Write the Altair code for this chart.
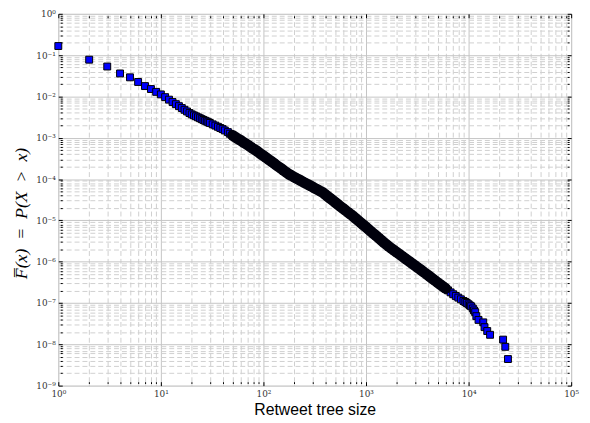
import altair as alt
import pandas as pd

# ---- data (tree size, CCDF) ----
sizes = [1, 2, 3, 4, 5, 6, 7, 8, 9, 10,
         11, 12, 13, 14, 15, 16, 17, 18, 19, 20,
         21, 22, 23, 24, 25, 26, 27, 28, 29, 30,
         32, 34, 36, 38, 40, 42, 45, 47, 50, 53, 56, 60, 63, 67, 71, 75, 79, 84, 89, 94,
         100, 106, 112, 119, 126, 133, 141, 150, 158, 168, 178, 188, 200, 211, 224, 237,
         251, 266, 282, 299, 316, 335, 355, 376, 398, 422, 447, 473, 501, 531, 562, 596,
         631, 668, 708, 750, 794, 841, 891, 944, 1000, 1059, 1122, 1189, 1259, 1334, 1413,
         1496, 1585, 1679, 1778, 1884, 1995, 2113, 2239, 2371, 2512, 2661, 2818, 2985,
         3162, 3350, 3548, 3758, 3981, 4217, 4467, 4732, 5012, 5309, 5623, 5957, 6310,
         6683, 7079, 7499, 7943, 8414, 8913, 9290, 9600, 10000, 10300, 10600, 11000,
         11300, 11600, 11900, 12500, 13900, 14300, 15200, 16200, 21700, 22800, 24200]
ccdf = [0.166, 0.0776, 0.053, 0.036, 0.029, 0.0224, 0.0178, 0.0151, 0.0129, 0.0112,
        0.00962, 0.00836, 0.00733, 0.0065, 0.00582, 0.00524, 0.00475, 0.00433, 0.00396, 0.00368,
        0.00348, 0.0033, 0.00312, 0.00297, 0.00282, 0.0027, 0.00258, 0.00248, 0.00237, 0.00228,
        0.00211, 0.00197, 0.00184, 0.00172, 0.00162, 0.0015, 0.00137, 0.00125, 0.00114,
        0.00104, 0.000948, 0.000865, 0.000789, 0.000721, 0.000658, 0.0006, 0.000547,
        0.000499, 0.000451, 0.000406,
        0.000366, 0.00033, 0.000298, 0.000269, 0.000242, 0.000218, 0.000197, 0.000177,
        0.00016, 0.000144, 0.00013, 0.000121, 0.000111, 0.000103, 9.55e-5, 8.85e-5,
        8.19e-5, 7.58e-5, 7.02e-5, 6.5e-5, 6.02e-5, 5.57e-5, 5.15e-5, 4.77e-5, 4.27e-5,
        3.81e-5, 3.41e-5, 3.05e-5, 2.73e-5, 2.44e-5, 2.18e-5, 1.95e-5,
        1.75e-5, 1.56e-5, 1.4e-5, 1.25e-5, 1.11e-5, 9.86e-6, 8.73e-6, 7.73e-6, 6.84e-6,
        6.05e-6, 5.36e-6, 4.74e-6, 4.2e-6, 3.72e-6, 3.29e-6,
        2.91e-6, 2.58e-6, 2.3e-6, 2.07e-6, 1.87e-6, 1.68e-6, 1.52e-6, 1.37e-6, 1.23e-6,
        1.11e-6, 1.0e-6, 9.02e-7, 8.13e-7,
        7.31e-7, 6.59e-7, 5.92e-7, 5.32e-7, 4.78e-7, 4.29e-7, 3.85e-7, 3.46e-7, 3.1e-7,
        2.79e-7, 2.5e-7, 2.25e-7, 2.02e-7,
        1.81e-7, 1.63e-7, 1.48e-7, 1.35e-7, 1.23e-7, 1.12e-7, 1.06e-7, 1.0e-7, 9.3e-8,
        8.7e-8, 8.3e-8, 7.4e-8,
        6.6e-8, 6.0e-8, 4.8e-8, 3.9e-8, 3.4e-8, 2.6e-8, 2.1e-8, 1.7e-8, 1.3e-8, 8.7e-9, 4.4e-9]

x_major_exps = [0, 1, 2, 3, 4, 5]
y_major_exps = [-9, -8, -7, -6, -5, -4, -3, -2, -1, 0]
minor_mults = [1, 2, 3, 4, 5, 6, 7, 8, 9]

x_ticks = [m * 10.0 ** e for e in x_major_exps for m in minor_mults if m * 10.0 ** e <= 1e5]
y_ticks = [m * 10.0 ** e for e in y_major_exps for m in minor_mults if m * 10.0 ** e <= 1.0]

df = pd.DataFrame({"size": sizes, "ccdf": ccdf})

SUP = {"0": "\u2070", "1": "\u00b9", "2": "\u00b2", "3": "\u00b3", "4": "\u2074",
       "5": "\u2075", "6": "\u2076", "7": "\u2077", "8": "\u2078", "9": "\u2079",
       "-": "\u207b"}


def sup(n):
    return "".join(SUP[c] for c in str(n))


EXP = "round(log(datum.value)/LN10)"
IS_MAJOR = f"abs(log(datum.value)/LN10 - {EXP}) < 0.001"


def label_expr(exps):
    nested = "''"
    for e in exps:
        nested = f"({EXP} == {e} ? '10{sup(e)}' : {nested})"
    return f"{IS_MAJOR} ? {nested} : ''"


grid_dash = {"condition": {"test": IS_MAJOR, "value": []}, "value": [5, 3]}
grid_color = {"condition": {"test": IS_MAJOR, "value": "#c4c4c4"}, "value": "#cfcfcf"}
tick_size = {"condition": {"test": IS_MAJOR, "value": 4}, "value": 2}

common = dict(
    grid=True, gridDash=grid_dash, gridColor=grid_color, gridWidth=1,
    ticks=True, tickSize=tick_size, tickColor="black", tickWidth=1, offset=-4,
    domain=False,
    labelFont="DejaVu Serif", labelFontSize=9, labelColor="#333333",
    labelOverlap=False, labelFlush=False, labelBound=False,
)

tick_only = dict(
    grid=False, ticks=True, tickSize=tick_size, tickColor="black", tickWidth=1,
    offset=-4, domain=False, labels=False, title=None,
)

x_scale = alt.Scale(type="log", domain=[1, 1e5], nice=False)
y_scale = alt.Scale(type="log", domain=[1e-9, 1], nice=False)

x_enc = alt.X(
    "size:Q", scale=x_scale,
    axis=alt.Axis(
        values=x_ticks, labelExpr=label_expr(x_major_exps),
        title="Retweet tree size", titleFont="Liberation Sans", titleFontSize=16,
        titleFontWeight="normal", titleColor="black", labelPadding=4, titlePadding=3,
        **common,
    ),
)
y_enc = alt.Y(
    "ccdf:Q", scale=y_scale,
    axis=alt.Axis(
        values=y_ticks, labelExpr=label_expr(y_major_exps),
        title="F\u0305(x)\u2002=\u2002P(X\u2002>\u2002x)", titleFont="Liberation Serif",
        titleFontSize=18, titleFontStyle="italic", titleFontWeight="normal",
        titleColor="black", labelPadding=3, titlePadding=5, titleY=202,
        **common,
    ),
)

points = alt.Chart(df).mark_point(
    shape="square", filled=True, size=49, color="#0000ff",
    stroke="black", strokeWidth=1, opacity=1,
).encode(x=x_enc, y=y_enc)

band = alt.Chart(df).transform_filter(
    "datum.size >= 50 && datum.size <= 6000"
).mark_line(color="#00000c", strokeWidth=11, strokeCap="round", strokeJoin="round").encode(
    x=alt.X("size:Q", scale=x_scale, axis=alt.Axis(orient="top", values=x_ticks, **tick_only)),
    y=alt.Y("ccdf:Q", scale=y_scale, axis=alt.Axis(orient="right", values=y_ticks, **tick_only)),
)

chart = alt.layer(points, band).resolve_axis(x="independent", y="independent").properties(
    width=520, height=377,
    padding={"left": 51, "top": 3, "right": 11, "bottom": 35},
    autosize=alt.AutoSizeParams(type="none"),
).configure_view(stroke="black", strokeWidth=1).configure(background="white")

chart.save("out.html", embed_options={"renderer": "svg", "actions": False})
